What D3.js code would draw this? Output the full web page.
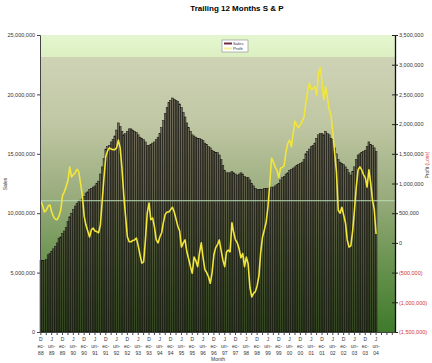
<!DOCTYPE html>
<html>
<head>
<meta charset="utf-8">
<script src="https://cdn.jsdelivr.net/npm/d3@7"></script>
<style>
  body { margin: 0; background: #fff; }
  text { font-family: "Liberation Sans", Arial, sans-serif; }
</style>
</head>
<body>
<svg id="chart"></svg>
<script>
// trailing 12 month sales, millions, Dec-88 .. Jun-04
const sales = [
  6.0, 6.0, 6.0, 6.1, 6.5, 6.6, 6.8, 7.0, 7.2, 7.5,
  7.9, 8.0, 8.3, 8.5, 8.8, 9.3, 9.7, 10.0, 10.3, 10.6,
  10.8, 11.0, 11.1, 11.2, 11.4, 11.7, 11.8, 12.0, 12.1, 12.2,
  12.3, 12.5, 12.7, 13.3, 13.9, 14.6, 15.4, 15.6, 15.7, 16.0,
  16.2, 16.5, 17.0, 17.6, 17.3, 16.9, 16.6, 16.7, 16.9, 17.1,
  17.1, 17.0, 16.9, 16.8, 16.6, 16.4, 16.3, 16.2, 16.0, 15.7,
  15.7, 15.8, 15.9, 16.0, 16.2, 16.4, 16.7, 17.2, 17.8, 18.4,
  18.9, 19.3, 19.5, 19.7, 19.6, 19.5, 19.4, 19.2, 18.9, 18.5,
  18.1, 17.6, 17.2, 16.9, 16.6, 16.5, 16.4, 16.3, 16.3, 16.2,
  16.1, 15.9, 15.8, 15.6, 15.5, 15.3, 15.2, 15.1, 15.1, 14.9,
  14.5, 14.0, 13.6, 13.4, 13.4, 13.4, 13.5, 13.4, 13.3, 13.2,
  13.3, 13.4, 13.3, 13.1, 13.0, 13.0, 12.8, 12.5, 12.3, 12.1,
  12.0, 12.0, 12.0, 12.0, 12.1, 12.1, 12.1, 12.2, 12.2, 12.2,
  12.3, 12.4, 12.5, 12.8, 13.0, 13.1, 13.3, 13.4, 13.6, 13.7,
  13.8, 13.9, 14.0, 14.1, 14.2, 14.3, 14.5, 15.0, 15.2, 15.4,
  15.6, 15.7, 15.9, 16.3, 16.6, 16.7, 16.7, 16.6, 16.9, 16.7,
  16.6, 16.3, 16.2, 15.5, 15.0, 14.5, 14.3, 14.2, 14.1, 13.9,
  13.7, 13.4, 13.2, 13.5, 13.9, 14.5, 14.9, 15.0, 15.1, 15.2,
  15.3, 15.6, 16.0, 15.8, 15.7, 15.5, 15.2,
];
// trailing 12 month profit (loss), millions
const profit = [
  0.70, 0.62, 0.52, 0.55, 0.62, 0.64, 0.52, 0.44, 0.40, 0.39,
  0.45, 0.55, 0.80, 0.86, 0.95, 1.05, 1.28, 1.11, 1.15, 1.18,
  1.24, 1.20, 1.00, 0.80, 0.45, 0.30, 0.20, 0.10, 0.22, 0.25,
  0.20, 0.19, 0.17, 0.30, 0.70, 1.10, 1.45, 1.55, 1.60, 1.58,
  1.57, 1.57, 1.60, 1.73, 1.60, 1.25, 0.80, 0.44, 0.10, 0.02,
  0.02, 0.04, 0.05, 0.08, -0.05, -0.20, -0.34, -0.32, 0.05, 0.50,
  0.67, 0.39, 0.42, 0.27, 0.05, 0.00, 0.10, 0.17, 0.35, 0.48,
  0.52, 0.52, 0.56, 0.60, 0.52, 0.40, 0.28, 0.20, -0.07, 0.00,
  0.05, -0.15, -0.27, -0.40, -0.51, -0.24, -0.30, -0.40, -0.17, 0.00,
  -0.25, -0.45, -0.50, -0.57, -0.68, -0.50, -0.20, -0.08, -0.03, 0.05,
  -0.12, -0.29, -0.40, -0.15, -0.12, -0.15, 0.34, 0.17, 0.05, 0.00,
  -0.10, -0.25, -0.18, -0.40, -0.24, -0.35, -0.75, -0.91, -0.85, -0.82,
  -0.72, -0.55, -0.15, 0.10, 0.22, 0.35, 0.60, 1.00, 1.43, 1.36,
  1.28, 1.22, 1.10, 1.26, 1.27, 1.30, 1.53, 1.68, 1.73, 1.62,
  1.85, 2.05, 1.98, 1.94, 1.99, 2.05, 2.12, 2.35, 2.55, 2.69,
  2.58, 2.60, 2.63, 2.49, 2.85, 2.95, 2.70, 2.41, 2.63, 2.44,
  2.24, 2.15, 1.85, 1.52, 1.20, 0.55, 0.50, 0.60, 0.47, 0.34,
  0.05, -0.07, -0.05, 0.20, 0.55, 0.94, 1.23, 1.28, 1.23, 1.15,
  1.10, 0.94, 1.23, 1.01, 0.72, 0.56, 0.15,
];
const profitAverage = 0.71; // pale reference line
const salesTicks = [0, 5, 10, 15, 20, 25];
const profitTicks = [-1.5, -1, -0.5, 0, 0.5, 1, 1.5, 2, 2.5, 3, 3.5];
const monthLabels = [
  "Dec-88", "Jun-89", "Dec-89", "Jun-90", "Dec-90", "Jun-91", "Dec-91", "Jun-92",
  "Dec-92", "Jun-93", "Dec-93", "Jun-94", "Dec-94", "Jun-95", "Dec-95", "Jun-96",
  "Dec-96", "Jun-97", "Dec-97", "Jun-98", "Dec-98", "Jun-99", "Dec-99", "Jun-00",
  "Dec-00", "Jun-01", "Dec-01", "Jun-02", "Dec-02", "Jun-03", "Dec-03", "Jun-04",
];

const layout = {
  width: 432,
  height: 363,
  margin: { left: 40, right: 37, top: 35, bottom: 31 },
};

function render() {
  const { width, height, margin } = layout;
  const innerH = height - margin.top - margin.bottom;
  const svg = d3.select("#chart").attr("width", width).attr("height", height);

  // axis runs a few empty months past the last data point
  const fmt = d3.timeFormat("%b-%y");
  const months = d3.timeMonth.range(new Date(1988, 11, 1), new Date(2005, 4, 1)).map(fmt);
  const x = d3.scaleBand().domain(months).range([margin.left, width - margin.right]).padding(0);
  const yS = d3.scaleLinear().domain([0, 25]).range([height - margin.bottom, margin.top]);
  const yP = d3.scaleLinear().domain([-1.5, 3.5]).range([height - margin.bottom, margin.top]);

  // background gradient
  const defs = svg.append("defs");
  const grad = defs.append("linearGradient").attr("id", "bg").attr("x1", 0).attr("x2", 0).attr("y1", 0).attr("y2", 1);
  [
    [0, "#e4f6cf"], [0.073, "#dcf0c3"], [0.075, "#ced3b6"], [0.3, "#c0c7a3"],
    [0.55, "#98ab7c"], [0.75, "#6d9553"], [1, "#3f7a2b"],
  ].forEach(([o, c]) => grad.append("stop").attr("offset", o).attr("stop-color", c));

  svg.append("rect")
    .attr("x", margin.left).attr("y", margin.top)
    .attr("width", width - margin.left - margin.right).attr("height", innerH)
    .attr("fill", "url(#bg)");

  // title
  svg.append("text")
    .attr("x", 237).attr("y", 11)
    .attr("text-anchor", "middle")
    .style("font-size", "8px").style("font-weight", "bold")
    .text("Trailing 12 Months S & P");

  // sales bars
  svg.append("g")
    .selectAll("rect")
    .data(sales)
    .join("rect")
    .attr("x", (d, i) => x(months[i]))
    .attr("y", (d) => yS(d))
    .attr("width", x.bandwidth())
    .attr("height", (d) => yS(0) - yS(d))
    .attr("fill", "#2b1f1c")
    .attr("fill-opacity", 0.55)
    .attr("stroke", "#141410")
    .attr("stroke-width", 0.5);

  // average line
  svg.append("line")
    .attr("x1", margin.left).attr("x2", width - margin.right)
    .attr("y1", yP(profitAverage)).attr("y2", yP(profitAverage))
    .attr("stroke", "#b9dcb4").attr("stroke-width", 1);

  // profit line
  const line = d3.line().x((d, i) => x(months[i]) + x.bandwidth() / 2).y((d) => yP(d));
  svg.append("path")
    .datum(profit)
    .attr("fill", "none")
    .attr("stroke", "#f3e63a")
    .attr("stroke-width", 1.6)
    .attr("stroke-linejoin", "round")
    .attr("d", line);

  // left axis
  const left = svg.append("g")
    .attr("transform", `translate(${margin.left},0)`)
    .call(d3.axisLeft(yS).tickValues(salesTicks).tickSize(3).tickFormat((d) => d3.format(",")(d * 1e6)));
  left.select(".domain").attr("stroke", "#444");
  left.selectAll("line").attr("stroke", "#444");
  left.selectAll("text").attr("fill", "#333").style("font-size", "5.5px").attr("x", -5);

  // right axis, losses in red with brackets
  const pf = (d) => (d < 0 ? `(${d3.format(",")(-d * 1e6)})` : d3.format(",")(d * 1e6));
  const right = svg.append("g")
    .attr("transform", `translate(${width - margin.right},0)`)
    .call(d3.axisRight(yP).tickValues(profitTicks).tickSizeInner(3).tickSizeOuter(0).tickFormat(pf));
  right.select(".domain").attr("stroke", "#111").attr("stroke-width", 1.3);
  right.selectAll("line").attr("stroke", "#222").attr("x1", -3);
  right.selectAll("text")
    .attr("fill", (d) => (d < 0 ? "#d0342c" : "#333"))
    .style("font-size", "5.5px").attr("x", 4);

  // bottom axis
  const bottom = svg.append("g")
    .attr("transform", `translate(0,${height - margin.bottom})`)
    .call(d3.axisBottom(x).tickValues(months.filter((d, i) => i % 3 === 0)).tickSize(3).tickSizeOuter(0).tickFormat(""));
  bottom.select(".domain").attr("stroke", "#444");
  bottom.selectAll("line").attr("stroke", "#444");

  const lab = svg.append("g")
    .selectAll("text")
    .data(monthLabels)
    .join("text")
    .attr("text-anchor", "middle")
    .attr("fill", "#333")
    .style("font-size", "5px");
  lab.each(function (d) {
    const cx = x(d) + x.bandwidth() / 2;
    const parts = [d[0], d.slice(1, 4), d.slice(4)];
    d3.select(this)
      .selectAll("tspan")
      .data(parts)
      .join("tspan")
      .attr("x", cx)
      .attr("y", (p, k) => height - margin.bottom + 9 + k * 7)
      .text((p) => p);
  });

  svg.append("text")
    .attr("x", 218).attr("y", 361)
    .attr("text-anchor", "middle").attr("fill", "#333")
    .style("font-size", "5px").text("Month");

  // axis titles
  svg.append("text")
    .attr("transform", "translate(7,184) rotate(-90)")
    .attr("text-anchor", "middle").attr("fill", "#333")
    .style("font-size", "5px").text("Sales");
  const rt = svg.append("text")
    .attr("transform", "translate(429,165) rotate(-90)")
    .attr("text-anchor", "middle").attr("fill", "#333")
    .style("font-size", "5px");
  rt.append("tspan").text("Profit ");
  rt.append("tspan").attr("fill", "#d0342c").text("(Loss)");

  // legend
  const lg = svg.append("g").attr("transform", "translate(222,40)");
  lg.append("rect").attr("width", 26).attr("height", 12).attr("fill", "#fff").attr("stroke", "#888").attr("stroke-width", 0.6);
  [["Sales", "#6e2a47"], ["Profit", "#f6ef98"]].forEach(([name, c], k) => {
    lg.append("line").attr("x1", 2).attr("x2", 10).attr("y1", 3.5 + k * 5).attr("y2", 3.5 + k * 5)
      .attr("stroke", c).attr("stroke-width", 2);
    lg.append("text").attr("x", 11).attr("y", 5.3 + k * 5).attr("fill", "#333").style("font-size", "4.2px").text(name);
  });
}

render();
</script>
</body>
</html>
